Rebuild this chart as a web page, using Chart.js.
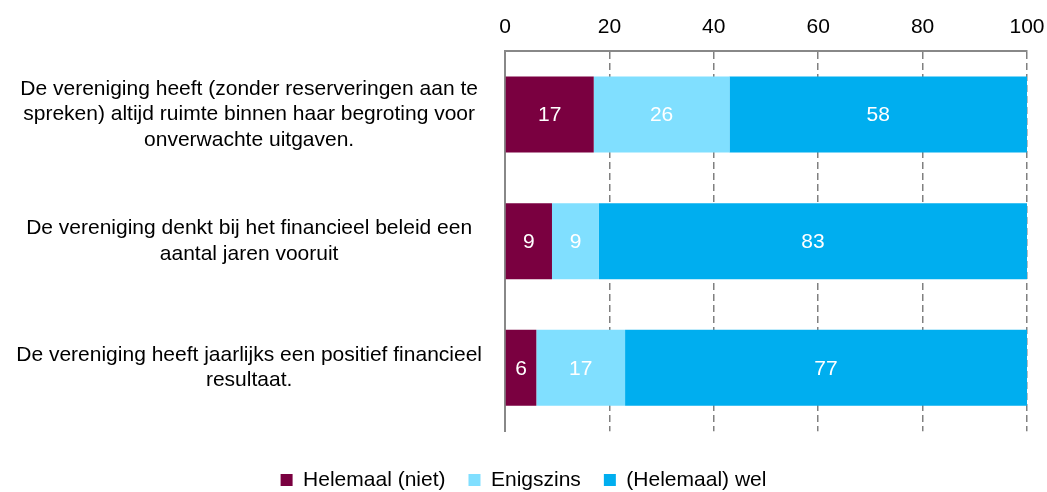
<!DOCTYPE html>
<html>
<head>
<meta charset="utf-8">
<script src="https://cdn.jsdelivr.net/npm/chart.js@4"></script>
<style>
  html, body { margin: 0; padding: 0; background: #fff; }
  #wrap { width: 1047px; height: 492px; }
</style>
</head>
<body>
<div id="wrap"><canvas id="grafiek" width="1047" height="492"></canvas></div>
<script>
// stellingen (regels al gesplitst zoals in de figuur)
var stellingen = [
    ["De vereniging heeft (zonder reserveringen aan te", "spreken) altijd ruimte binnen haar begroting voor", "onverwachte uitgaven."],
    ["De vereniging denkt bij het financieel beleid een", "aantal jaren vooruit"],
    ["De vereniging heeft jaarlijks een positief financieel", "resultaat."]
];

var reeksNamen = ["Helemaal (niet)", "Enigszins", "(Helemaal) wel"];
var helemaalNiet = [17, 9, 6];
var enigszins = [26, 9, 17];
var helemaalWel = [58, 83, 77];

var kleuren = ["#7a0040", "#80dfff", "#00aeef"];
var lettertype = "'Liberation Sans', Arial, sans-serif";
var grootte = 21;

// labels midden in de balk (eigen plugin, geen datalabels beschikbaar)
var waardeLabels = {
    id: 'waardeLabels',
    afterDatasetsDraw: function (chart) {
        var ctx = chart.ctx;
        var area = chart.chartArea;
        ctx.save();
        ctx.font = grootte + "px " + lettertype;
        ctx.fillStyle = "#fff";
        ctx.textAlign = "center";
        ctx.textBaseline = "middle";
        chart.data.datasets.forEach(function (ds, i) {
            var meta = chart.getDatasetMeta(i);
            meta.data.forEach(function (el, j) {
                // 58 + 26 + 17 > 100, dus afkappen op de rand van het plotgebied
                var eind = Math.min(el.x, area.right);
                var begin = Math.max(el.base, area.left);
                ctx.fillText(ds.data[j], (begin + eind) / 2, el.y + 1);
            });
        });
        ctx.restore();
    }
};

var reeksen = [helemaalNiet, enigszins, helemaalWel];
var datasets = [];
for (var i = 0; i < reeksen.length; i++) {
    datasets.push({
        label: reeksNamen[i],
        data: reeksen[i],
        backgroundColor: kleuren[i],
        borderWidth: 0,
        barPercentage: 0.6,
        categoryPercentage: 1
    });
}

var ctx = document.getElementById("grafiek").getContext("2d");
var grafiek = new Chart(ctx, {
    type: "bar",
    data: { labels: stellingen, datasets: datasets },
    plugins: [waardeLabels],
    options: {
        indexAxis: 'y',
        responsive: false,
        animation: false,
        layout: { padding: { top: 4, right: 0, bottom: -12, left: 0 } },
        plugins: {
            legend: {
                position: 'bottom',
                // lege titel = extra ruimte tussen plot en legenda
                title: { display: true, text: '', font: { size: 1 }, padding: { top: 0, bottom: 14 } },
                labels: {
                    boxWidth: 12,
                    boxHeight: 12,
                    padding: 23,
                    color: "#000",
                    font: { family: lettertype, size: grootte }
                }
            },
            tooltip: { enabled: false }
        },
        scales: {
            x: {
                position: 'top',
                stacked: true,
                min: 0,
                max: 100,
                ticks: {
                    stepSize: 20,
                    padding: 11,
                    color: "#000",
                    font: { family: lettertype, size: grootte }
                },
                grid: {
                    color: "#808080",
                    lineWidth: 1.5,
                    drawTicks: false
                },
                border: { display: true, color: "#888", width: 2, dash: [7, 4] },
                // alleen de helft van "100" als ruimte rechts, zonder tick-padding
                afterFit: function (schaal) { schaal.paddingRight = 20; }
            },
            y: {
                stacked: true,
                ticks: {
                    crossAlign: 'center',
                    padding: 23,
                    color: "#000",
                    font: { family: lettertype, size: grootte, lineHeight: 1.2 }
                },
                grid: { display: false, drawTicks: false },
                border: { display: true, color: "#888", width: 2 },
                afterFit: function (schaal) { schaal.width = 505; }
            }
        }
    }
});
</script>
</body>
</html>
